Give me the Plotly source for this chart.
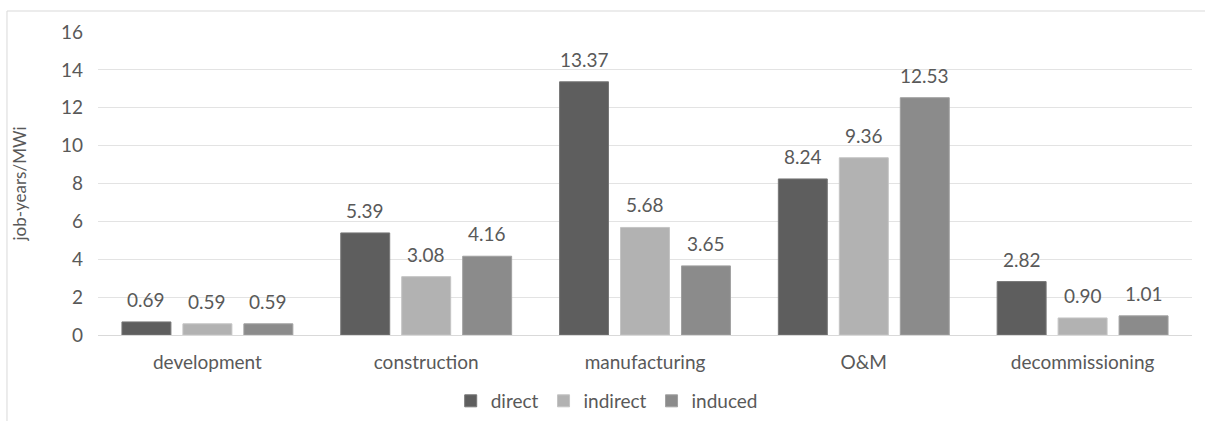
import plotly.graph_objects as go

categories = ["development", "construction", "manufacturing", "O&M", "decommissioning"]
direct = [0.69, 5.39, 13.37, 8.24, 2.82]
indirect = [0.59, 3.08, 5.68, 9.36, 0.90]
induced = [0.59, 4.16, 3.65, 12.53, 1.01]

series = [
    ("direct", direct, "#5e5e5e", "#777777"),
    ("indirect", indirect, "#b2b2b2", "#c4c4c4"),
    ("induced", induced, "#8b8b8b", "#a0a0a0"),
]

FONT = "Lato, 'Open Sans', sans-serif"
TEXT_COLOR = "#595959"
BARGAP = 0.164
BARGROUPGAP = 0.197

fig = go.Figure()
annotations = []
n = len(series)
slot = (1 - BARGAP) / n
for i, (name, vals, color, edge) in enumerate(series):
    fig.add_trace(go.Bar(
        name=name,
        x=categories,
        y=vals,
        marker=dict(color=color, line=dict(color=edge, width=1)),
    ))
    # value labels sit a little above each bar, centred on its slot
    for j, v in enumerate(vals):
        annotations.append(dict(
            x=j + (i - (n - 1) / 2) * slot,
            y=v,
            xref="x", yref="y",
            text=f"{v:.2f}",
            showarrow=False,
            yanchor="bottom",
            yshift=9,
            font=dict(family=FONT, size=19, color=TEXT_COLOR),
        ))

fig.update_layout(
    width=1205,
    height=421,
    margin=dict(l=98, r=13, t=32, b=86, autoexpand=False),
    paper_bgcolor="white",
    plot_bgcolor="white",
    barmode="group",
    bargap=BARGAP,
    bargroupgap=BARGROUPGAP,
    font=dict(family=FONT, size=19, color=TEXT_COLOR),
    showlegend=True,
    legend=dict(
        orientation="h",
        x=0.465, xanchor="center",
        y=-0.155, yanchor="top",
        font=dict(family=FONT, size=19, color=TEXT_COLOR),
        itemwidth=30,
        tracegroupgap=0,
        traceorder="normal",
    ),
    xaxis=dict(
        showgrid=False,
        showline=True,
        linecolor="#d9d9d9",
        ticks="",
        ticklabelstandoff=10,
        tickfont=dict(family=FONT, size=19, color=TEXT_COLOR),
    ),
    yaxis=dict(
        range=[0, 16],
        dtick=2,
        showgrid=True,
        gridcolor="#e3e3e3",
        zeroline=False,
        ticks="",
        ticklabelstandoff=14,
        tickfont=dict(family=FONT, size=19, color=TEXT_COLOR),
        title=dict(text="job-years/MWi", font=dict(family=FONT, size=17, color=TEXT_COLOR), standoff=30),
    ),
    annotations=annotations,
    shapes=[
        dict(type="line", xref="paper", yref="paper",
             x0=-0.0832, x1=-0.0832, y0=1.0693, y1=-0.35,
             line=dict(color="#d9d9d9", width=1)),
        dict(type="line", xref="paper", yref="paper",
             x0=-0.0832, x1=1.02, y0=1.0693, y1=1.0693,
             line=dict(color="#d9d9d9", width=1)),
    ],
)

fig.write_html("out.html")
